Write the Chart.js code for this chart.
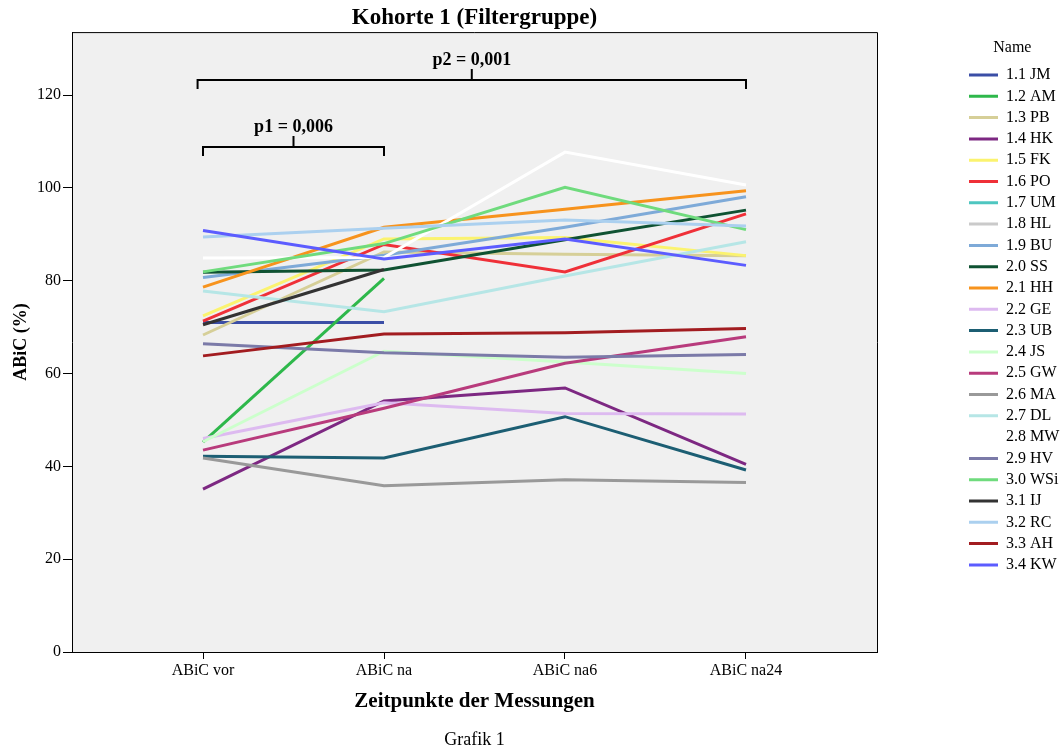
<!DOCTYPE html>
<html>
<head>
<meta charset="utf-8">
<script src="https://cdn.jsdelivr.net/npm/chart.js@4.4.1/dist/chart.umd.min.js"></script>
<style>
  html, body { margin: 0; padding: 0; background: #fff; }
</style>
</head>
<body>
<canvas id="chart" width="1061" height="753"></canvas>
<script>
// Messzeitpunkte
const timepoints = ['ABiC vor', 'ABiC na', 'ABiC na6', 'ABiC na24'];
const yTicks = [0, 20, 40, 60, 80, 100, 120];

const names = ['1.1 JM', '1.2 AM', '1.3 PB', '1.4 HK', '1.5 FK', '1.6 PO', '1.7 UM', '1.8 HL',
  '1.9 BU', '2.0 SS', '2.1 HH', '2.2 GE', '2.3 UB', '2.4 JS', '2.5 GW', '2.6 MA', '2.7 DL',
  '2.8 MW', '2.9 HV', '3.0 WSi', '3.1 IJ', '3.2 RC', '3.3 AH', '3.4 KW'];
const colors = ['#3b4ea6', '#2eb84b', '#d6cf98', '#7d2882', '#fbf36f', '#ef3038', '#4ec6c0', '#cacaca',
  '#7eaad8', '#0f5232', '#f7931d', '#ddbaf0', '#1c5e73', '#ccffcc', '#b83b7c', '#999999', '#b6e6e6',
  '#ffffff', '#7b7aa8', '#6fdb7d', '#333333', '#abd0ef', '#a21c20', '#5c5cff'];

// ABiC (%) je Person: vor, na, na6, na24
const jm  = [71.0, 71.0, null, null];
const am  = [45.2, 80.5, null, null];
const pb  = [68.3, 86.2, 85.7, 85.4];
const hk  = [35.1, 54.1, 56.9, 40.4];
const fk  = [72.4, 89.0, 89.3, 85.4];
const po  = [71.3, 87.8, 81.9, 94.4];
const um  = [null, null, null, null];
const hl  = [null, null, null, null];
const bu  = [80.7, 85.5, 91.5, 98.1];
const ss  = [81.8, 82.3, 88.8, 95.2];
const hh  = [78.6, 91.5, 95.4, 99.4];
const ge  = [46.0, 53.7, 51.4, 51.3];
const ub  = [42.2, 41.8, 50.7, 39.2];
const js  = [45.3, 64.8, 62.5, 60.0];
const gw  = [43.5, 52.5, 62.2, 67.9];
const ma  = [41.8, 35.8, 37.1, 36.5];
const dl  = [77.8, 73.3, 81.0, 88.4];
const mw  = [84.9, 85.0, 107.7, 100.6];
const hv  = [66.4, 64.5, 63.5, 64.1];
const wsi = [81.9, 88.0, 100.1, 91.0];
const ij  = [70.5, 82.4, null, null];
const rc  = [89.4, 91.3, 93.1, 91.8];
const ah  = [63.8, 68.5, 68.8, 69.7];
const kw  = [90.8, 84.7, 89.0, 83.3];
const series = [jm, am, pb, hk, fk, po, um, hl, bu, ss, hh, ge, ub, js, gw, ma, dl, mw, hv, wsi, ij, rc, ah, kw];

// Signifikanz-Klammern
const pLabels = ['p1 = 0,006', 'p2 = 0,001'];
const pFrom = [0, -0.03];
const pTo = [1, 3];
const pLevel = [108.9, 123.2];

Chart.defaults.font.family = "'Liberation Serif', 'Times New Roman', serif";
Chart.defaults.font.size = 16;
Chart.defaults.color = '#000';

const plotFrame = {
  id: 'plotFrame',
  beforeDraw(chart) {
    const {ctx, chartArea: a} = chart;
    ctx.save();
    ctx.fillStyle = '#f0f0f0';
    ctx.fillRect(a.left, a.top, a.right - a.left, a.bottom - a.top);
    ctx.restore();
  },
  afterDraw(chart) {
    const {ctx, chartArea: a} = chart;
    ctx.save();
    ctx.strokeStyle = '#000';
    ctx.lineWidth = 1;
    ctx.beginPath();
    ctx.moveTo(a.left, a.top + 0.5);
    ctx.lineTo(a.right + 0.5, a.top + 0.5);
    ctx.lineTo(a.right + 0.5, a.bottom);
    ctx.stroke();
    ctx.restore();
  }
};

const brackets = {
  id: 'brackets',
  afterDatasetsDraw(chart) {
    const {ctx} = chart;
    const xs = chart.scales.x, ys = chart.scales.y;
    ctx.save();
    ctx.strokeStyle = '#000';
    ctx.lineWidth = 2;
    ctx.fillStyle = '#000';
    ctx.font = "bold 18px 'Liberation Serif', serif";
    ctx.textAlign = 'center';
    ctx.textBaseline = 'middle';
    pLabels.forEach((txt, i) => {
      const x1 = xs.getPixelForValue(pFrom[i]);
      const x2 = xs.getPixelForValue(pTo[i]);
      const y = Math.round(ys.getPixelForValue(pLevel[i]));
      const xm = (x1 + x2) / 2;
      ctx.beginPath();
      ctx.moveTo(x1, y + 9);
      ctx.lineTo(x1, y);
      ctx.lineTo(x2, y);
      ctx.lineTo(x2, y + 9);
      ctx.moveTo(xm, y);
      ctx.lineTo(xm, y - 11);
      ctx.stroke();
      ctx.fillText(txt, xm, y - 20);
    });
    ctx.restore();
  }
};

const datasets = series.map((vals, i) => ({
  label: names[i],
  data: vals.map((v, k) => ({x: k, y: v})),
  borderColor: colors[i],
  backgroundColor: colors[i],
  borderWidth: 3,
  pointRadius: 0,
  tension: 0,
  order: series.length - i
}));

new Chart(document.getElementById('chart'), {
  type: 'line',
  data: { datasets },
  plugins: [plotFrame, brackets],
  options: {
    responsive: false,
    animation: false,
    layout: { padding: 0 },
    plugins: {
      tooltip: { enabled: false },
      title: {
        display: true,
        fullSize: false,
        text: 'Kohorte 1 (Filtergruppe)',
        font: { size: 23, weight: 'bold' },
        padding: { top: 4.5, bottom: 0 }
      },
      subtitle: {
        display: true,
        fullSize: false,
        position: 'bottom',
        text: 'Grafik 1',
        font: { size: 18 },
        padding: { top: 15.2, bottom: 2.2 }
      },
      legend: {
        position: 'right',
        align: 'start',
        maxWidth: 97.3,
        title: {
          display: true,
          text: 'Name',
          font: { size: 16 },
          padding: { top: 40, bottom: 2.5 }
        },
        labels: {
          boxWidth: 29,
          boxHeight: 3,
          padding: 5.3,
          font: { size: 16 },
          sort: (a, b) => a.datasetIndex - b.datasetIndex,
          generateLabels: (chart) => Chart.defaults.plugins.legend.labels.generateLabels(chart)
            .map(item => Object.assign(item, { lineWidth: 0, fillStyle: item.strokeStyle }))
        }
      }
    },
    scales: {
      x: {
        type: 'linear',
        min: -0.7238,
        max: 3.7238,
        afterBuildTicks: s => { s.ticks = timepoints.map((t, i) => ({ value: i })); },
        afterFit: s => { s.height = 62; },
        ticks: {
          callback: v => timepoints[v],
          padding: 2,
          font: { size: 16 }
        },
        grid: { display: true, drawOnChartArea: false, drawTicks: true, tickLength: 7, color: '#000' },
        border: { display: true, color: '#000', width: 1 },
        title: {
          display: true,
          text: 'Zeitpunkte der Messungen',
          font: { size: 21, weight: 'bold' },
          padding: { top: 4, bottom: 0 }
        }
      },
      y: {
        min: 0,
        max: 133.56,
        afterBuildTicks: s => { s.ticks = yTicks.map(v => ({ value: v })); },
        afterFit: s => { s.width = 72; },
        ticks: { padding: 2, font: { size: 16 } },
        grid: { display: true, drawOnChartArea: false, drawTicks: true, tickLength: 9, color: '#000' },
        border: { display: true, color: '#000', width: 1 },
        title: {
          display: true,
          text: 'ABiC (%)',
          font: { size: 18, weight: 'bold' },
          padding: { top: 11, bottom: 0 }
        }
      },
      spacer: {
        type: 'linear',
        position: 'right',
        display: true,
        afterFit: s => { s.width = 86.7; },
        ticks: { display: false },
        grid: { display: false },
        border: { display: false }
      }
    }
  }
});
</script>
</body>
</html>
